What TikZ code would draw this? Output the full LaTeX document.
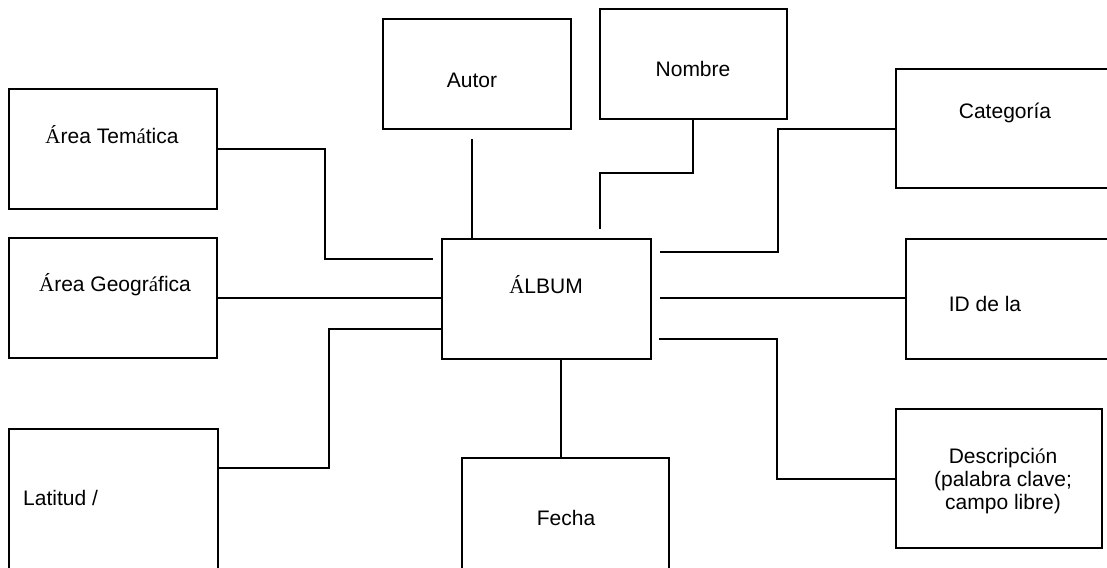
\documentclass[tikz,border=0pt]{standalone}
\usepackage{fontspec}
\setmainfont{Liberation Sans}
\newfontfamily\accfont{Liberation Serif}
\begin{document}
\begin{tikzpicture}[x=1pt,y=-1pt,
  box/.style={draw, line width=1.5pt, inner sep=0pt},
  lbl/.style={font=\fontsize{21}{23}\selectfont, inner sep=0pt, align=center},
  conn/.style={line width=1.5pt}]
\useasboundingbox (0,0) rectangle (1107,567);
\clip (0,0) rectangle (1107,567);
\fill[white] (0,0) rectangle (1107,567);
% boxes
\node[box, minimum width=208pt, minimum height=120pt] (tem) at (113,149) {};
\node[box, minimum width=208pt, minimum height=120pt] (geo) at (113,298) {};
\node[box, minimum width=209pt, minimum height=190pt] (lat) at (113.5,524) {};
\node[box, minimum width=188pt, minimum height=110pt] (autor) at (477,74) {};
\node[box, minimum width=187pt, minimum height=110pt] (nombre) at (693.5,64) {};
\node[box, minimum width=234pt, minimum height=119pt] (cat) at (1013,128.5) {};
\node[box, minimum width=224pt, minimum height=120pt] (id) at (1018,299) {};
\node[box, minimum width=209pt, minimum height=120pt] (album) at (546.5,299) {};
\node[box, minimum width=206pt, minimum height=139pt] (desc) at (999,478.5) {};
\node[box, minimum width=207pt, minimum height=170pt] (fecha) at (565.5,543) {};
% texts
\node[lbl] (temT) at (112,135) {{\accfont Á}rea Tem{\accfont á}tica};
\node[lbl] (geoT) at (115,285) {{\accfont Á}rea Geogr{\accfont á}fica};
\node[lbl, anchor=west] (latT) at (23,498) {Latitud /};
\node[lbl] (autorT) at (472,80) {Autor};
\node[lbl] (nombreT) at (693,69) {Nombre};
\node[lbl] (catT) at (1005,113) {Categoría};
\node[lbl] (idT) at (985,304) {ID de la};
\node[lbl] (albumT) at (546,285) {{\accfont Á}LBUM};
\node[lbl] (descT) at (1003,481) {Descripci{\accfont ó}n\\(palabra clave;\\campo libre)};
\node[lbl] (fechaT) at (566,518) {Fecha};
% connector end points
\coordinate (temEnd) at (433,259);
\coordinate (latY) at (0,468);
\coordinate (autorA) at (472,139);
\coordinate (autorB) at (472,238);
\coordinate (nomEnd) at (600,229);
\coordinate (catEnd) at (660,252);
\coordinate (idStart) at (660,298);
\coordinate (descStart) at (659,339);
\coordinate (descY) at (0,479);
\coordinate (latIn) at (0,329);
% connectors
\draw[conn] (tem.east) -| (325,259) -- (temEnd);
\draw[conn] (geo.east) -- (geo.east -| album.west);
\draw[conn] (lat.east |- latY) -| (329,329) -- (album.west |- latIn);
\draw[conn] (autorA) -- (autorB);
\draw[conn] (nombre.south -| 693,0) -- (693,173) -| (nomEnd);
\draw[conn] (cat.west |- 0,129) -| (778,252) -- (catEnd);
\draw[conn] (idStart) -- (idStart -| id.west);
\draw[conn] (descStart) -| (777,479) -- (desc.west |- descY);
\draw[conn] (album.south -| 561,0) -- (fecha.north -| 561,0);
\end{tikzpicture}
\end{document}
